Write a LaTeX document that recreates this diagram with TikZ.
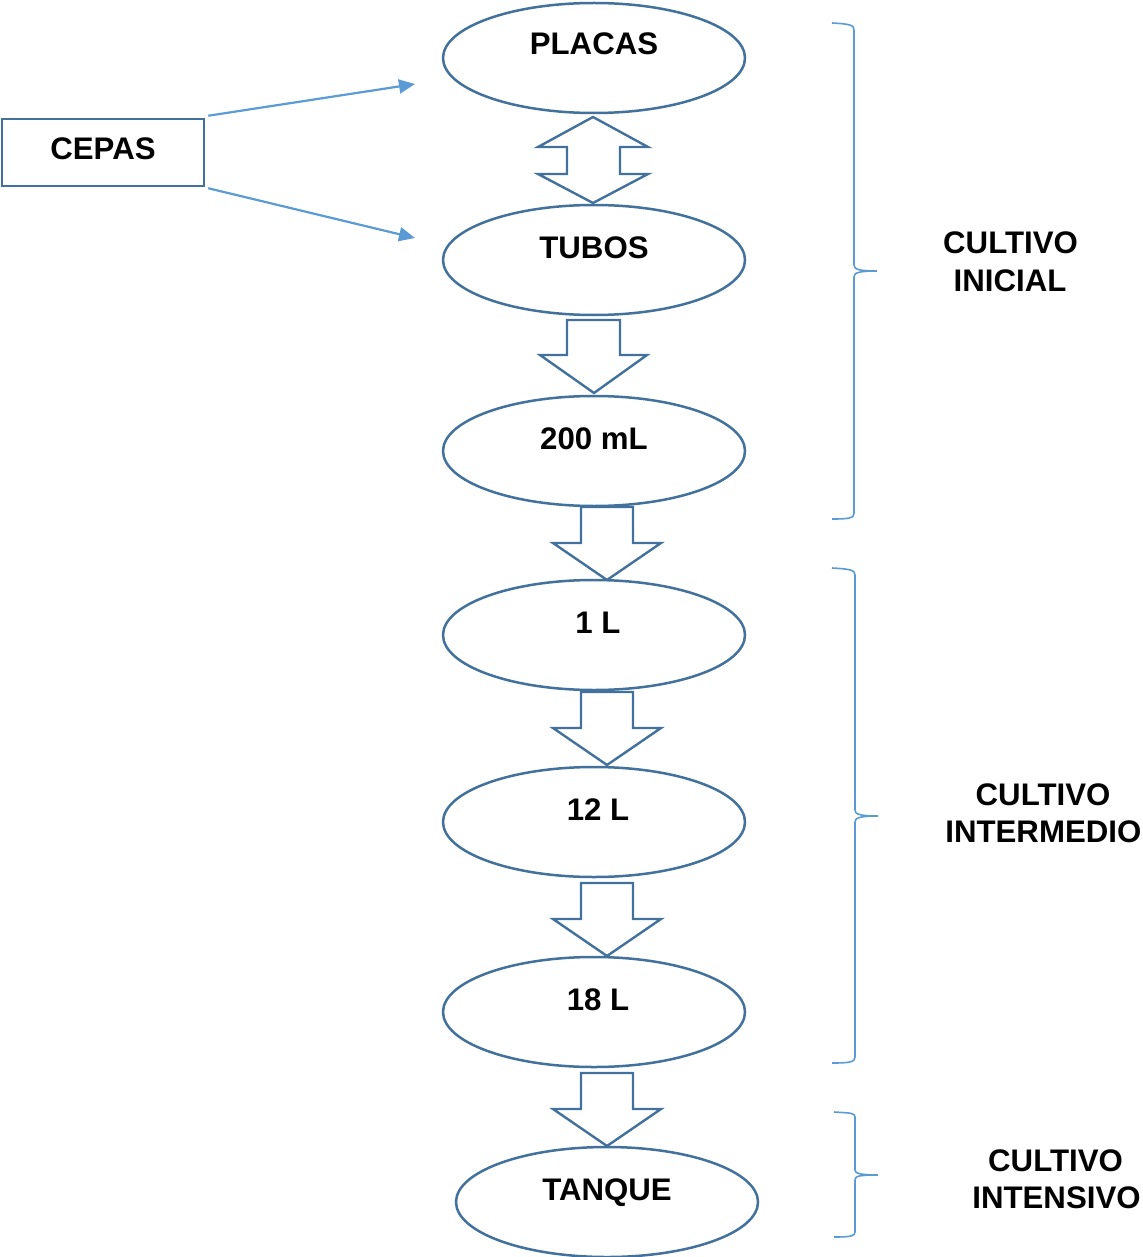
\documentclass[tikz,border=0pt]{standalone}
\usepackage{fontspec}
\setmainfont{Liberation Sans}
\usetikzlibrary{shapes.geometric,arrows.meta}
\definecolor{darkb}{HTML}{41719C}
\definecolor{lightb}{HTML}{5B9BD5}
\begin{document}
\begin{tikzpicture}[x=0.5pt,y=-0.5pt,
  stage/.style={ellipse,draw=darkb,line width=1.25pt,minimum width=151pt,minimum height=55pt,inner sep=0pt},
  lbl/.style={anchor=base,inner sep=0pt,font=\fontsize{15.6}{18}\selectfont\bfseries},
  blockarrow/.style={draw=darkb,line width=1.2pt,line join=miter,fill=white},
  conn/.style={draw=lightb,line width=1.1pt,-{Triangle[length=8pt,width=7pt]}},
  brace/.style={draw=lightb,line width=0.8pt}]
\useasboundingbox (0,0) rectangle (1143,1257);
% stages
\node[stage] (placas) at (594,58) {};
\node[stage] (tubos) at (594,260) {};
\node[stage] (ml200) at (594,451) {};
\node[stage] (l1) at (594,635) {};
\node[stage] (l12) at (594,822) {};
\node[stage] (l18) at (594,1012) {};
\node[stage] (tanque) at (607,1202) {};
\node[lbl] (placas-t) at (594,55) {PLACAS};
\node[lbl] (tubos-t) at (594,258) {TUBOS};
\node[lbl] (ml200-t) at (594,449) {200 mL};
\node[lbl] (l1-t) at (598,633) {1 L};
\node[lbl] (l12-t) at (598,820) {12 L};
\node[lbl] (l18-t) at (598,1010) {18 L};
\node[lbl] (tanque-t) at (607,1200) {TANQUE};
% cepas
\node[draw=darkb,line width=1.25pt,minimum width=101pt,minimum height=33.5pt,inner sep=0pt] (cepas) at (103,152.5) {};
\node[lbl] (cepas-t) at (103,160) {CEPAS};
\coordinate (a1) at (415,84);
\coordinate (a2) at (415,238);
\draw[conn] ([shift={(3,-2)}]cepas.north east) -- (a1);
\draw[conn] ([shift={(3,1)}]cepas.south east) -- (a2);
% double arrow placas <-> tubos
\draw[blockarrow] (593,117) -- (648,147) -- (620,147) -- (620,174) -- (648,174) -- (593,203) -- (538,174) -- (567,174) -- (567,147) -- (538,147) -- cycle;
% down arrows
\draw[blockarrow] (567,320) -- (620,320) -- (620,355) -- (647,355) -- (594,393) -- (540,355) -- (567,355) -- cycle;
\foreach \t in {507,692,883,1073}{
  \draw[blockarrow] (581,\t) -- (633,\t) -- (633,\t+36) -- (661,\t+36) -- (607,\t+73) -- (553,\t+36) -- (581,\t+36) -- cycle;
}
% braces
\draw[brace] (832,23) .. controls (850,24) and (854,25) .. (854,30) -- (854,265)
  .. controls (854,269) and (858,271) .. (877,271)
  .. controls (858,271) and (854,273) .. (854,277) -- (854,513)
  .. controls (854,518) and (850,519) .. (832,519);
\draw[brace] (832,568) .. controls (850,569) and (855,570) .. (855,575) -- (855,810)
  .. controls (855,814) and (859,816) .. (878,816)
  .. controls (859,816) and (855,818) .. (855,822) -- (855,1057)
  .. controls (855,1062) and (850,1063) .. (832,1063);
\draw[brace] (834,1112) .. controls (851,1113) and (855,1113) .. (855,1117) -- (855,1170)
  .. controls (855,1173) and (859,1175) .. (878,1175)
  .. controls (859,1175) and (855,1176) .. (855,1180) -- (855,1232)
  .. controls (855,1236) and (851,1237) .. (834,1237);
% group labels
\node[lbl] (ini1) at (1010.5,254) {CULTIVO};
\node[lbl] (ini2) at (1010,292) {INICIAL};
\node[lbl] (int1) at (1043,805) {CULTIVO};
\node[lbl,anchor=base west] (int2) at (945,842) {INTERMEDIO};
\node[lbl] (ins1) at (1055.5,1171) {CULTIVO};
\node[lbl,anchor=base west] (ins2) at (972,1208) {INTENSIVO};
\end{tikzpicture}
\end{document}
